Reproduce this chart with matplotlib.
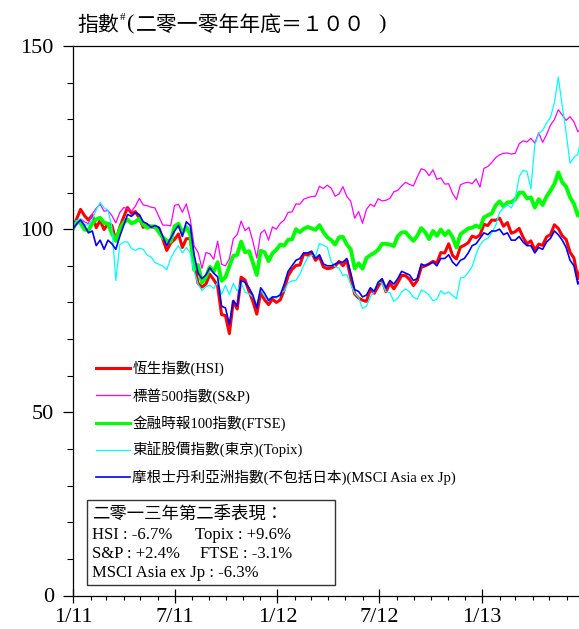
import pandas as pd
import numpy as np
import matplotlib
matplotlib.use('Agg')
import matplotlib.pyplot as plt
import matplotlib.dates as mdates
from matplotlib.patches import Rectangle
from matplotlib.ticker import FuncFormatter, MultipleLocator

plt.rcParams['font.family'] = ['Liberation Serif', 'Noto Sans CJK TC']

# 每週收市指數 (二零一零年年底 = 100), 由 2010-12-31 起
hsi = [100, 102.8, 105.4, 103.7, 102.5, 103.8, 100.4, 102.4, 99.9, 101.6, 101.0, 96.8, 100.5,
       103.3, 105.9, 104.3, 104.8, 103.0, 100.5, 101.0, 100.7, 100.4, 100.3, 97.3, 94.2, 96.2,
       97.2, 98.7, 95.0, 97.4, 97.4, 90.9, 85.2, 84.2, 85.0, 87.7, 86.2, 84.5, 76.7, 76.4, 71.5,
       80.3, 78.2, 86.9, 86.1, 83.1, 80.3, 76.8, 82.7, 80.7, 79.4, 80.9, 80.0,
       80.7, 83.4, 87.3, 89.0, 90.1, 90.2, 93.3, 92.9, 93.6, 91.5, 92.5, 89.7, 89.2, 89.4, 89.9,
       91.2, 90.0, 91.5, 86.7, 82.3, 81.2, 80.6, 80.3, 83.5, 82.5, 84.4, 86.0, 82.9, 85.3, 83.7,
       85.4, 87.4, 87.3, 86.3, 84.6, 86.0, 89.6, 90.0, 90.5, 91.2, 90.8, 93.6, 93.5, 96.0, 92.8,
       91.9, 95.1, 95.6, 96.3, 98.1, 97.7, 98.4,
       101.3, 101.0, 102.5, 102.4, 103.0, 100.8, 101.8, 98.9, 99.3, 100.2, 97.8, 96.0, 96.8,
       94.3, 95.9, 95.6, 97.9, 98.5, 101.2, 100.2, 98.2, 97.2, 93.7, 92.1, 86.5, 90.3]

sp500 = [100, 101.1, 102.8, 102.0, 101.5, 104.2, 105.7, 106.8, 104.9, 105.1, 103.7, 101.7, 104.5,
         105.9, 105.6, 104.9, 106.3, 108.4, 106.6, 106.4, 106.0, 105.8, 103.4, 101.1, 101.1, 100.9,
         106.5, 106.8, 104.6, 106.9, 102.8, 95.4, 93.7, 89.3, 93.6, 93.3, 91.8, 96.7, 90.4, 90.0,
         91.9, 97.4, 98.5, 102.2, 99.6, 100.5, 96.7, 92.1, 98.9, 99.8, 97.0, 100.6, 100.0,
         101.6, 102.5, 104.6, 104.7, 106.9, 106.8, 108.2, 108.6, 108.9, 109.0, 111.7, 111.1, 112.0,
         111.2, 109.0, 109.6, 111.6, 108.9, 107.6, 103.0, 104.8, 101.6, 105.4, 106.8, 106.2, 108.3,
         107.7, 107.9, 108.4, 110.2, 110.6, 111.8, 112.8, 112.2, 111.8, 114.3, 116.5, 116.1, 114.6,
         116.2, 113.6, 114.0, 112.3, 112.4, 109.7, 108.1, 112.1, 112.6, 112.8, 112.4, 113.7, 111.5,
         116.6, 117.1, 118.2, 119.5, 120.3, 120.7, 120.8, 120.5, 120.7, 123.3, 124.1, 123.8, 124.8,
         123.5, 126.3, 123.7, 125.8, 128.4, 129.9, 132.6, 131.2, 129.7, 130.7, 129.3, 126.6, 127.7]

ftse = [100, 102.0, 101.7, 99.9, 99.7, 101.6, 102.7, 103.1, 101.7, 101.5, 98.8, 96.9, 100.0,
        101.8, 102.6, 101.6, 102.0, 102.9, 101.3, 100.4, 100.8, 100.7, 99.2, 97.7, 96.9, 96.6,
        100.8, 101.5, 99.0, 100.6, 98.6, 88.9, 90.2, 85.4, 86.9, 89.7, 88.4, 91.0, 85.9, 86.9,
        89.9, 92.7, 93.0, 96.6, 93.7, 94.0, 90.9, 87.5, 94.1, 93.7, 91.3, 93.4, 94.4,
        95.8, 95.5, 97.1, 97.2, 100.0, 99.2, 100.1, 100.6, 100.2, 99.8, 101.1, 99.2, 97.8, 97.0,
        95.8, 97.8, 97.9, 95.8, 94.5, 89.3, 90.7, 89.2, 92.1, 92.9, 93.5, 94.4, 96.0, 96.0, 95.8,
        95.4, 98.1, 99.1, 99.2, 97.9, 96.8, 98.2, 100.3, 99.2, 97.3, 99.5, 98.2, 99.9, 98.4, 99.5,
        97.8, 95.0, 98.6, 99.4, 100.2, 100.4, 101.0, 100.4,
        103.2, 103.8, 104.3, 106.5, 107.6, 106.2, 107.3, 107.4, 108.1, 109.9, 110.0, 108.4, 108.7,
        105.9, 108.2, 106.6, 108.9, 110.5, 112.3, 115.5, 112.8, 111.6, 108.7, 106.9, 103.7, 105.4]

topix = [100, 102.3, 102.9, 101.1, 101.2, 102.7, 105.3, 107.3, 105.8, 105.2, 100.5, 86.0, 95.7,
         96.5, 96.5, 94.7, 94.2, 94.8, 94.5, 92.9, 92.4, 90.9, 90.4, 90.0, 88.9, 92.0, 94.0, 95.5,
         93.5, 95.0, 93.5, 88.5, 85.0, 83.2, 84.3, 84.7, 83.8, 85.4, 82.2, 84.7, 82.1, 85.2, 83.1,
         85.4, 82.8, 82.4, 81.5, 79.4, 83.4, 81.6, 80.9, 81.6, 81.1,
         82.6, 83.1, 85.3, 85.9, 86.0, 87.7, 90.2, 92.3, 92.9, 92.6, 96.1, 95.6, 95.1, 91.1, 89.7,
         89.4, 87.3, 87.6, 84.9, 82.4, 81.4, 78.3, 79.0, 81.5, 83.0, 85.7, 85.2, 82.9, 82.7, 80.3,
         81.1, 82.9, 83.7, 82.9, 81.4, 80.9, 83.4, 82.9, 82.0, 80.4, 80.9, 83.2, 82.3, 82.9, 81.9,
         81.0, 86.7, 86.9, 88.2, 89.8, 93.2, 95.7,
         97.0, 97.5, 99.0, 101.0, 104.6, 105.8, 106.6, 105.8, 108.3, 114.3, 116.1, 115.7, 111.0,
         123.0, 126.0, 127.0, 129.0, 130.5, 134.5, 141.5, 133.7, 126.3, 118.0, 119.6, 120.5, 126.1]

msci_axj = [100, 101.5, 102.5, 101.0, 99.0, 99.5, 95.5, 97.0, 94.5, 97.0, 96.0, 94.5, 98.0,
            101.0, 104.0, 103.5, 104.5, 104.0, 102.0, 101.5, 100.5, 101.0, 100.5, 98.0, 95.5, 97.5,
            99.5, 101.0, 98.0, 102.0, 101.0, 93.0, 88.0, 86.5, 87.5, 89.5, 88.0, 87.0, 79.0, 78.5,
            74.0, 80.5, 79.0, 86.0, 85.5, 84.0, 82.0, 78.5, 84.0, 82.5, 80.5, 81.5, 81.5,
            82.0, 85.0, 88.5, 90.0, 91.5, 92.0, 93.5, 93.5, 94.0, 92.0, 93.0, 90.5, 90.0, 90.0, 90.5,
            91.0, 91.0, 92.0, 88.0, 83.5, 83.0, 81.5, 82.0, 84.0, 83.0, 85.5, 86.5, 84.0, 86.0, 85.0,
            86.5, 88.5, 88.0, 87.5, 86.0, 86.5, 90.5, 90.0, 90.5, 91.0, 90.0, 92.0, 92.0, 93.0, 91.0,
            90.0, 91.5, 92.0, 93.5, 95.5, 96.0, 97.5,
            99.0, 98.5, 99.5, 99.5, 100.0, 98.5, 99.0, 97.0, 97.0, 98.0, 96.5, 95.5, 95.5, 93.5,
            95.0, 94.5, 96.5, 97.5, 99.5, 98.5, 97.0, 95.0, 91.5, 90.0, 85.0, 87.0]

labels = ['恆生指數(HSI)', '標普500指數(S&P)', '金融時報100指數(FTSE)',
          '東証股價指數(東京)(Topix)', '摩根士丹利亞洲指數(不包括日本)(MSCI Asia ex Jp)']
colors = ['#ff0000', '#ff00ff', '#00ff00', '#00ffff', '#0000ff']
widths = [2.2, 0.9, 2.8, 0.9, 1.2]

dates = pd.date_range('2010-12-31', periods=len(hsi), freq='7D')

W, H = 579, 629
fig = plt.figure(figsize=(W / 100, H / 100), dpi=100)
ax = fig.add_axes([73.3 / W, 1 - 595.5 / H, 1 - 73.3 / W, (595.5 - 46) / H])

for serie, lab, c, lw in zip([hsi, sp500, ftse, topix, msci_axj], labels, colors, widths):
    ax.plot(dates, serie, color=c, lw=lw, label=lab)

ax.set_ylim(0, 150)
ax.set_xlim(pd.Timestamp('2011-01-01'), pd.Timestamp('2013-06-23'))
ax.yaxis.set_major_locator(MultipleLocator(50))
ax.yaxis.set_minor_locator(MultipleLocator(10))
ax.xaxis.set_major_locator(mdates.MonthLocator(bymonth=[1, 7]))
ax.xaxis.set_minor_locator(mdates.MonthLocator())
ax.xaxis.set_major_formatter(FuncFormatter(
    lambda v, p: '%d/%s' % (mdates.num2date(v).month, mdates.num2date(v).strftime('%y'))))

ax.tick_params(axis='x', which='major', direction='inout', length=10, width=0.9,
               labelsize=16, pad=4)
ax.tick_params(axis='x', which='minor', direction='out', length=3, width=0.8)
ax.tick_params(axis='y', which='major', direction='out', length=7, width=0.9,
               labelsize=16, pad=7)
ax.tick_params(axis='y', which='minor', direction='out', length=4.5, width=0.8)
ax.spines['right'].set_visible(False)
for s in ['left', 'bottom', 'top']:
    ax.spines[s].set_linewidth(0.9)

leg = ax.legend(loc='upper left', bbox_to_anchor=(96 / W, 1 - 361 / H),
                bbox_transform=fig.transFigure, frameon=False, fontsize=10.5,
                borderpad=0, borderaxespad=0, handlelength=2.3, handletextpad=0.2,
                labelspacing=0.79)
for h, lw in zip(leg.get_lines(), [2.2, 0.9, 2.2, 0.9, 1.2]):
    h.set_linewidth(lw)

# 標題
cjk = ['Noto Sans CJK TC']
fig.text(77 / W, 1 - 25 / H, '指數', fontsize=15, family=cjk, va='center')
fig.text(119.5 / W, 1 - 17 / H, '#', fontsize=8, va='center')
fig.text(127 / W, 1 - 25 / H, '(', fontsize=16, va='center')
fig.text(136 / W, 1 - 25 / H, '二零一零年年底＝１００', fontsize=15, family=cjk, va='center')
fig.text(378 / W, 1 - 25 / H, ')', fontsize=16, va='center')

# 表現方框
fig.add_artist(Rectangle((87.3 / W, 1 - 585 / H), (335 - 87.3) / W, 85 / H,
                         transform=fig.transFigure, fill=True, facecolor='white',
                         edgecolor='#333333', lw=1.0))
fs = 12
fig.text(91.7 / W, 1 - 515 / H, '二零一三年第二季表現：', fontsize=12.5, va='center')
fig.text(91.7 / W, 1 - 535 / H, 'HSI : -6.7%', fontsize=fs, va='center')
fig.text(195 / W, 1 - 535 / H, 'Topix : +9.6%', fontsize=fs, va='center')
fig.text(91.7 / W, 1 - 554 / H, 'S&P : +2.4%', fontsize=fs, va='center')
fig.text(200 / W, 1 - 554 / H, 'FTSE : -3.1%', fontsize=fs, va='center')
fig.text(91.7 / W, 1 - 573 / H, 'MSCI Asia ex Jp : -6.3%', fontsize=fs, va='center')

fig.savefig('out.png', dpi=100)
